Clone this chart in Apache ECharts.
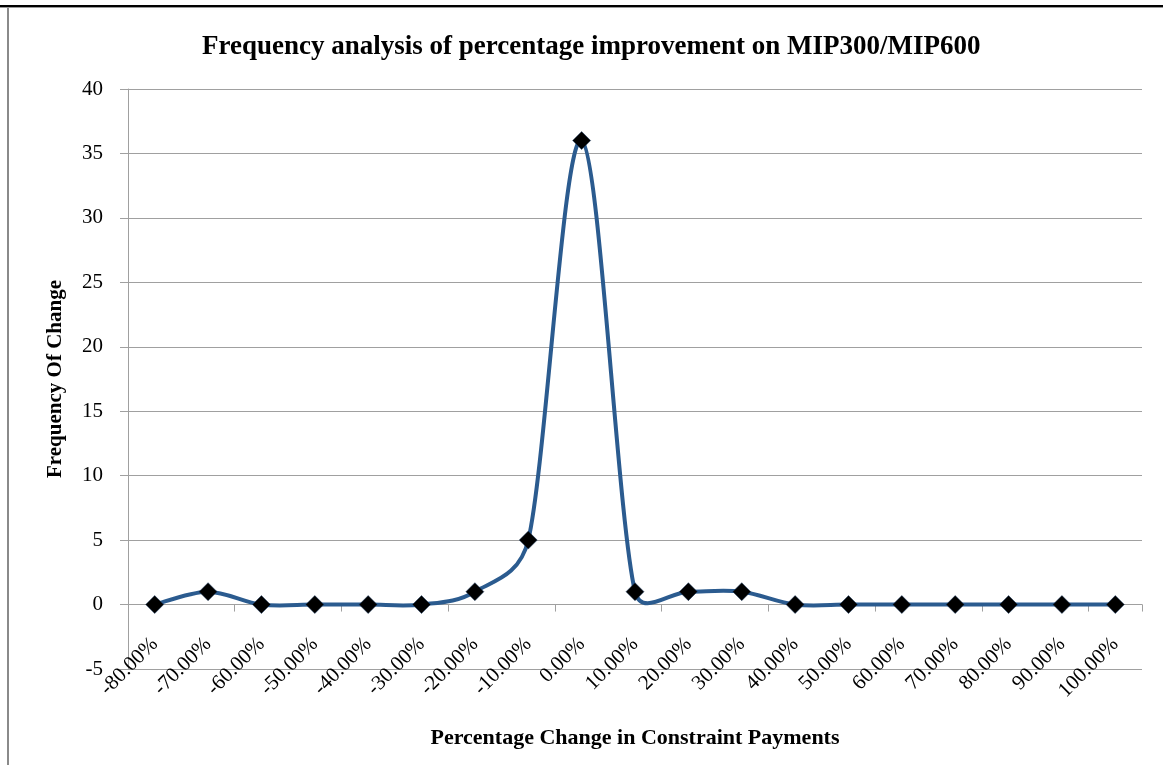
<!DOCTYPE html>
<html>
<head>
<meta charset="utf-8">
<script src="https://cdn.jsdelivr.net/npm/echarts@6/dist/echarts.min.js"></script>
<style>
  html, body { margin: 0; padding: 0; background: #fff; }
  #chart { width: 1163px; height: 765px; }
</style>
</head>
<body>
<div id="chart"></div>
<script>
// Percentage-change bins (category axis) and the count of runs in each bin
const categories = ['-80.00%', '-70.00%', '-60.00%', '-50.00%', '-40.00%', '-30.00%', '-20.00%',
  '-10.00%', '0.00%', '10.00%', '20.00%', '30.00%', '40.00%', '50.00%', '60.00%', '70.00%',
  '80.00%', '90.00%', '100.00%'];
const frequency = [0, 1, 0, 0, 0, 0, 1, 5, 36, 1, 1, 1, 0, 0, 0, 0, 0, 0, 0];
const yTicks = { min: -5, max: 40, step: 5 };

const serif = '"Liberation Serif", "Times New Roman", serif';
const gridGray = '#a0a0a0';
const lineBlue = '#2b5b8f';

// Smoothed curve: one cubic Bezier per pair of neighbouring bins, with
// Catmull-Rom style tangents computed in pixel space; the control arm is
// limited to half of the segment so short hops do not overshoot much.
function controlArm(prev, cur, next, segLen) {
  let dx = (next[0] - prev[0]) / 6;
  let dy = (next[1] - prev[1]) / 6;
  const len = Math.hypot(dx, dy);
  const cap = segLen * 0.5;
  if (len > cap && len > 0) { dx *= cap / len; dy *= cap / len; }
  return [dx, dy];
}

function renderSegment(params, api) {
  const i = params.dataIndex;
  const n = frequency.length;
  if (i >= n - 1) return { type: 'group', children: [] };
  const pt = (k) => {
    const j = Math.max(0, Math.min(n - 1, k));
    return api.coord([j, frequency[j]]);
  };
  const p0 = pt(i - 1), p1 = pt(i), p2 = pt(i + 1), p3 = pt(i + 2);
  const seg = Math.hypot(p2[0] - p1[0], p2[1] - p1[1]);
  const a1 = controlArm(p0, p1, p2, seg);
  const a2 = controlArm(p1, p2, p3, seg);
  return {
    type: 'bezierCurve',
    shape: {
      x1: p1[0], y1: p1[1],
      cpx1: p1[0] + a1[0], cpy1: p1[1] + a1[1],
      cpx2: p2[0] - a2[0], cpy2: p2[1] - a2[1],
      x2: p2[0], y2: p2[1]
    },
    style: { stroke: lineBlue, lineWidth: 4, fill: null, lineCap: 'round' },
    silent: true
  };
}

const chart = echarts.init(document.getElementById('chart'));
chart.setOption({
  backgroundColor: '#ffffff',
  animation: false,
  title: {
    text: 'Frequency analysis of percentage improvement on MIP300/MIP600',
    left: 197,
    top: 29,
    textStyle: { fontFamily: serif, fontWeight: 'bold', fontSize: 27, color: '#000' }
  },
  graphic: [
    { type: 'rect', shape: { x: 0, y: 5, width: 1163, height: 2 }, style: { fill: '#000' }, silent: true },
    { type: 'rect', shape: { x: 0, y: 7, width: 1163, height: 1 }, style: { fill: '#999' }, silent: true },
    { type: 'rect', shape: { x: 7, y: 8, width: 2, height: 757 }, style: { fill: '#8a8a8a' }, silent: true }
  ],
  grid: { left: 128, right: 21, top: 89, bottom: 96 },
  xAxis: [
    {
      // axis line through zero with ticks between bins
      type: 'category',
      data: categories,
      position: 'bottom',
      boundaryGap: true,
      axisLine: { onZero: true, lineStyle: { color: gridGray, width: 1 } },
      axisTick: { show: true, length: 7, lineStyle: { color: gridGray } },
      axisLabel: { show: false },
      splitLine: { show: false }
    },
    {
      // bin labels along the bottom of the plot
      type: 'category',
      data: categories,
      position: 'bottom',
      boundaryGap: true,
      name: 'Percentage Change in Constraint Payments',
      nameLocation: 'middle',
      nameGap: 58,
      nameTextStyle: { fontFamily: serif, fontWeight: 'bold', fontSize: 22, color: '#000' },
      axisLine: { show: false, onZero: false },
      axisTick: { show: false },
      axisLabel: {
        rotate: 45,
        margin: -28,
        fontFamily: serif,
        fontSize: 21,
        color: '#000'
      },
      splitLine: { show: false }
    }
  ],
  yAxis: {
    type: 'value',
    min: yTicks.min,
    max: yTicks.max,
    interval: yTicks.step,
    name: 'Frequency Of Change',
    nameLocation: 'middle',
    nameGap: 62,
    nameTextStyle: { fontFamily: serif, fontWeight: 'bold', fontSize: 21, color: '#000' },
    axisLine: { show: true, lineStyle: { color: gridGray, width: 1 } },
    axisTick: { show: true, length: 8, lineStyle: { color: gridGray } },
    axisLabel: { margin: 25, fontFamily: serif, fontSize: 21, color: '#000' },
    splitLine: { show: true, lineStyle: { color: gridGray, width: 1 } }
  },
  series: [
    {
      type: 'custom',
      xAxisIndex: 0,
      data: frequency.map((v, i) => [i, v]),
      renderItem: renderSegment,
      clip: false,
      z: 2
    },
    {
      type: 'scatter',
      xAxisIndex: 0,
      data: frequency,
      symbol: 'diamond',
      symbolSize: 18,
      itemStyle: { color: '#000', borderColor: '#1f3f66', borderWidth: 0.5, opacity: 1 },
      z: 3
    }
  ]
});
</script>
</body>
</html>
